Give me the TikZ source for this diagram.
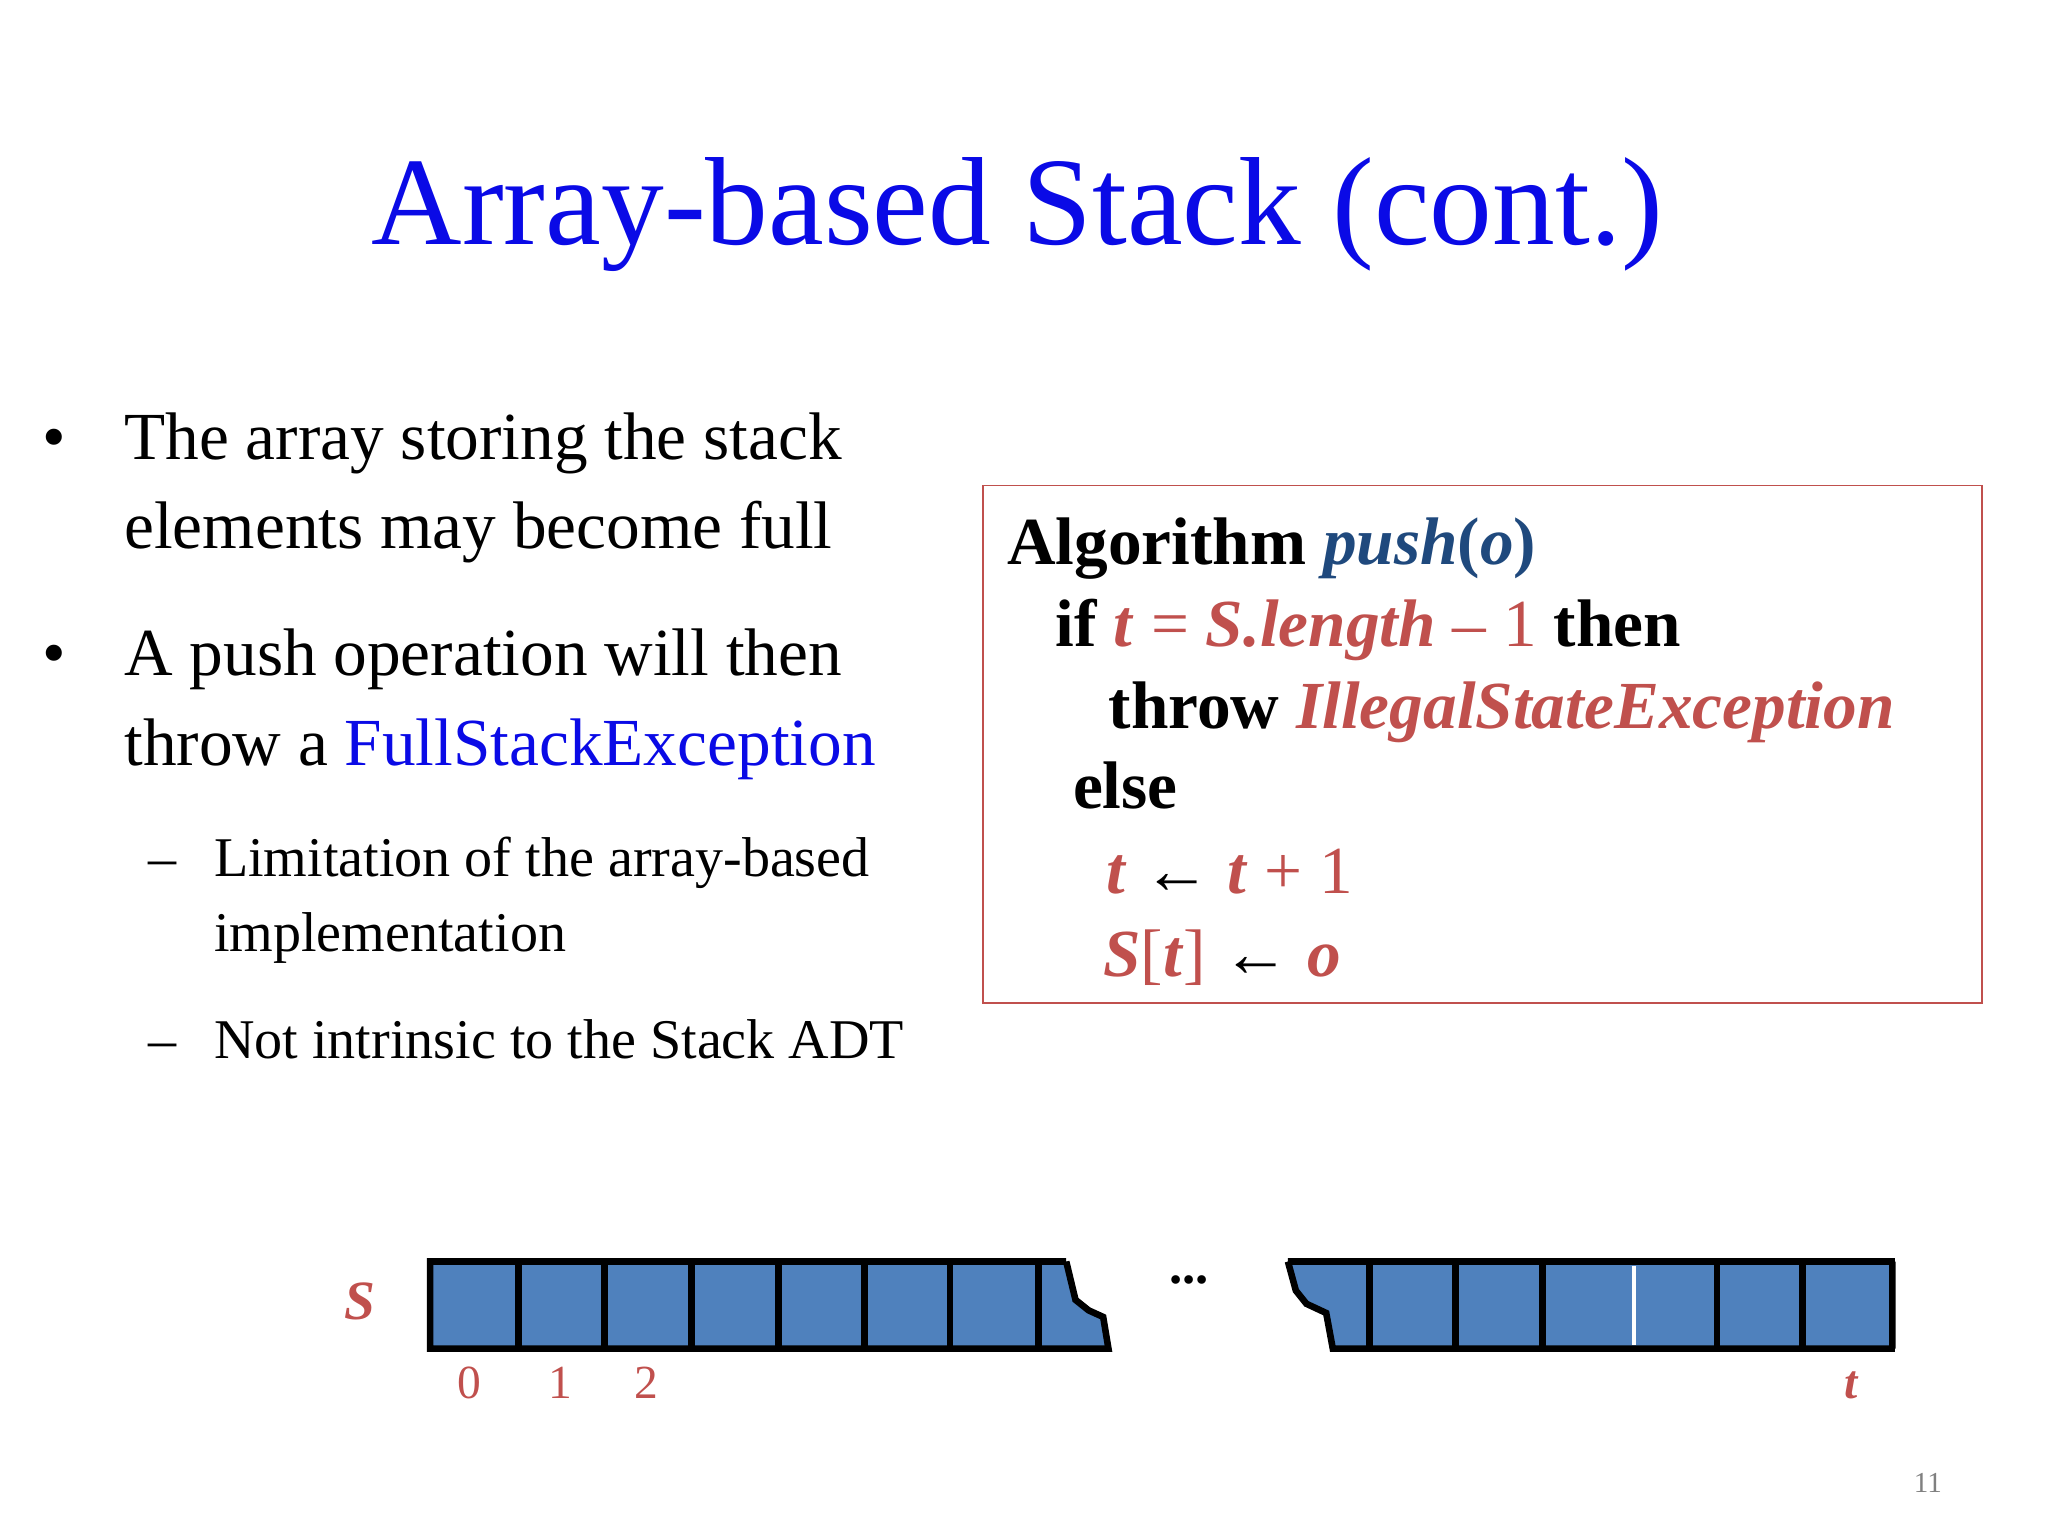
\documentclass[tikz,border=0pt]{standalone}
\usepackage{fontspec}
\setmainfont{Liberation Serif}
\definecolor{rd}{HTML}{C0504D}
\definecolor{db}{HTML}{1F497D}
\definecolor{tb}{HTML}{0A0AE6}
\definecolor{cellblue}{HTML}{4F81BD}
\begin{document}
\begin{tikzpicture}[x=1pt,y=-1pt,
  txt/.style={anchor=base west,inner sep=0pt,font=\fontsize{51}{51}\selectfont},
  sub/.style={anchor=base west,inner sep=0pt,font=\fontsize{42.5}{42.5}\selectfont},
  alg/.style={anchor=base west,inner sep=0pt,font=\fontsize{51}{51}\selectfont\bfseries},
  idx/.style={anchor=base,inner sep=0pt,text=rd,font=\fontsize{36}{36}\selectfont},
  cellline/.style={line width=5pt}]
\useasboundingbox (0,0) rectangle (1552,1164);
\node[anchor=base,inner sep=0pt,text=tb,font=\fontsize{95}{95}\selectfont] (title) at (771,185) {Array-based Stack (cont.)};
\node[txt] (b1) at (32,348) {\textbullet};
\node[txt] (l1) at (94,348) {The array storing the stack};
\node[txt] (l2) at (94,416) {elements may become full};
\node[txt] (b2) at (32,512) {\textbullet};
\node[txt] (l3) at (94,512) {A push operation will then};
\node[txt] (l4) at (94,580) {throw a \textcolor{tb}{FullStackException}};
\node[sub] (d1) at (112,664) {--};
\node[sub] (s1) at (162,664) {Limitation of the array-based};
\node[sub] (s2) at (162,721) {implementation};
\node[sub] (d2) at (112,802) {--};
\node[sub] (s3) at (162,802) {Not intrinsic to the Stack ADT};
\draw[rd,line width=1.2pt] (745,368) rectangle (1502,760);
\node[alg] (a1) at (763,428) {Algorithm \textcolor{db}{\textit{push}(\textit{o})}};
\node[alg] (a2) at (800,490) {if \textcolor{rd}{\textit{t}\mdseries\ = \bfseries\textit{S.length}\mdseries\ -- 1} then};
\node[alg] (a3) at (840,552) {throw \textcolor{rd}{\textit{IllegalStateException}}};
\node[alg] (a4) at (813,613) {else};
\node[alg,text=rd] (a5) at (838,677) {\textit{t} \mdseries\textcolor{black}{←} \bfseries\textit{t} \mdseries+ 1};
\node[alg,text=rd] (a6) at (836,740) {\textit{S}\mdseries[\bfseries\textit{t}\mdseries] \textcolor{black}{←} \bfseries\textit{o}};
% array left
\fill[cellblue] (326,956) -- (808,956) -- (815,985) -- (825,993) -- (836,998) -- (840,1022) -- (326,1022) -- cycle;
\draw[cellline,line join=miter] (808,956) -- (326,956) -- (326,1022) -- (840,1022) -- (836,998) -- (825,993) -- (815,985) -- (808,956);
\foreach \x in {393,458,524,590,655,720,787} \draw[cellline] (\x,956) -- (\x,1022);
% array right
\fill[cellblue] (976,956) -- (1434,956) -- (1434,1022) -- (1010,1022) -- (1005,995) -- (990,988) -- (982,978) -- cycle;
\draw[cellline,line join=miter] (976,956) -- (1436,956) (1434,956) -- (1434,1022) (1436,1022) -- (1010,1022) -- (1005,995) -- (990,988) -- (982,978) -- (976,956);
\foreach \x in {1038,1103,1169,1301,1366} \draw[cellline] (\x,956) -- (\x,1022);
\draw[white,line width=3pt] (1238,959) -- (1238,1019);
\node[anchor=base,inner sep=0pt,font=\fontsize{40}{40}\selectfont\bfseries] (dots) at (901,973) {...};
\node[idx,font=\fontsize{42}{42}\selectfont\itshape\bfseries] (S) at (273,1000) {S};
\node[idx] (i0) at (356,1060) {0};
\node[idx] (i1) at (425,1060) {1};
\node[idx] (i2) at (490,1060) {2};
\node[idx,font=\fontsize{36}{36}\selectfont\itshape\bfseries] (it) at (1403,1060) {t};
\node[anchor=base,inner sep=0pt,text=gray,font=\fontsize{22}{22}\selectfont] (pg) at (1461,1131) {11};
\end{tikzpicture}
\end{document}
